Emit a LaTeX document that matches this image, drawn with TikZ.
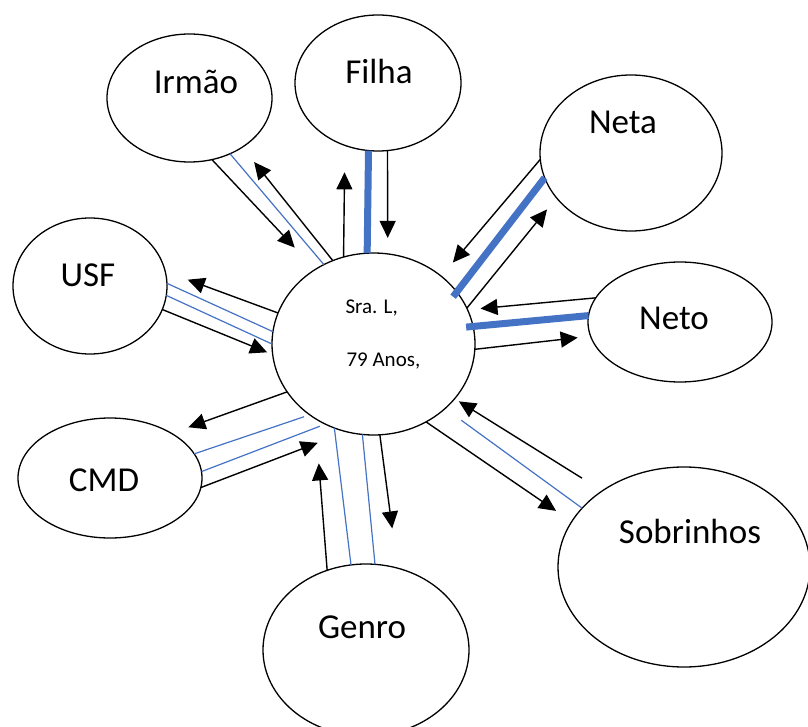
\documentclass[tikz,border=0pt]{standalone}
\usepackage{fontspec}
\setmainfont{Carlito}
\usetikzlibrary{arrows.meta, shapes.geometric}
\definecolor{tieblue}{HTML}{4472C4}
\tikzset{
  person/.style={draw, ellipse, line width=1.3pt, inner sep=0pt, outer sep=0pt},
  kinlabel/.style={font=\fontsize{35}{40}\selectfont},
  arr/.style={line width=1.4pt, -{Triangle[length=17pt, width=16pt]}},
  tie/.style={draw=tieblue, line width=1.2pt},
  strong/.style={draw=tieblue, line width=7pt}
}

\begin{document}
\begin{tikzpicture}[x=1pt, y=-1pt]
    % border
    \useasboundingbox (0,0) rectangle (808,727);
    % centre
    \node[person, minimum width=203pt, minimum height=182pt] (sra) at (373.5,344) {};
    \node[anchor=west, font=\fontsize{21}{25}\selectfont] (sra-name) at (342,308) {Sra. L,};
    \node[anchor=west, font=\fontsize{21}{25}\selectfont] (sra-age) at (343,361) {79 Anos,};
    % network
    \node[person, minimum width=165pt, minimum height=128pt] (irmao) at (189.5,98) {};
    \node[person, minimum width=166pt, minimum height=136pt] (filha) at (378,83) {};
    \node[person, minimum width=182pt, minimum height=156pt] (neta) at (631,153) {};
    \node[person, minimum width=184pt, minimum height=120pt] (neto) at (680,322) {};
    \node[person, minimum width=252pt, minimum height=200pt] (sobr) at (684,567) {};
    \node[person, minimum width=206pt, minimum height=172pt] (genro) at (366,650) {};
    \node[person, minimum width=184pt, minimum height=120pt] (cmd) at (110,478) {};
    \node[person, minimum width=154pt, minimum height=136pt] (usf) at (90,286) {};
    % names
    \node[kinlabel] (irmao-lbl) at (196,82) {Irmão};
    \node[kinlabel] (filha-lbl) at (379,71) {Filha};
    \node[kinlabel] (neta-lbl) at (623,122) {Neta};
    \node[kinlabel] (neto-lbl) at (674,318) {Neto};
    \node[kinlabel] (sobr-lbl) at (690,531) {Sobrinhos};
    \node[kinlabel] (genro-lbl) at (362,627) {Genro};
    \node[kinlabel] (cmd-lbl) at (104,480) {CMD};
    \node[kinlabel] (usf-lbl) at (88,275) {USF};
    % Irmão
    \draw[arr, shorten >=30pt] (irmao.-70) -- (sra.128);
    \draw[tie] (irmao.-54) -- (sra.122);
    \draw[arr, shorten >=19pt] (sra.116) -- (irmao.-43);
    % Filha
    \draw[arr, shorten >=27pt] (sra.109) -- (filha.-118);
    \draw[strong] (filha.-98) -- (sra.94);
    \draw[arr, shorten >=16pt] (filha.-82) -- (sra.81);
    % Neta
    \draw[arr, shorten >=18pt] (neta.-176) -- (sra.45);
    \draw[strong, shorten >=-6pt] (neta.-164) -- (sra.32);
    \draw[arr, shorten >=15pt] (sra.21) -- (neta.-149);
    % Neto
    \draw[arr, shorten >=13pt] (neto.164) -- (sra.20);
    \draw[strong, shorten <=-7pt] (sra.10) -- (neto.176);
    \draw[arr, shorten >=13pt] (sra.-3) -- (neto.-171);
    % Sobrinhos
    \draw[arr, shorten <=24pt, shorten >=5pt] (sobr.137) -- (sra.-34);
    \draw[tie, shorten <=20pt] (sra.-42) -- (sobr.150);
    \draw[arr, shorten >=19pt] (sra.-56) -- (sobr.158);
    % Genro
    \draw[arr, shorten >=40pt] (sra.-86) -- (genro.69);
    \draw[tie] (sra.-115) -- (genro.100);
    \draw[tie] (sra.-97) -- (genro.84);
    \draw[arr, shorten >=45pt] (genro.116) -- (sra.-128);
    % CMD
    \draw[arr, shorten >=18pt] (sra.-151) -- (cmd.36);
    \draw[tie, shorten <=6pt] (sra.-132) -- (cmd.16);
    \draw[tie, shorten <=6pt] (sra.-121) -- (cmd.4);
    \draw[arr, shorten >=31pt] (cmd.-6) -- (sra.-107);
    % USF
    \draw[arr, shorten >=24pt] (sra.162) -- (usf.11);
    \draw[tie] (usf.2) -- (sra.173);
    \draw[tie] (usf.-7) -- (sra.180);
    \draw[arr, shorten >=6pt] (usf.-18) -- (sra.-174);
\end{tikzpicture}
\end{document}
